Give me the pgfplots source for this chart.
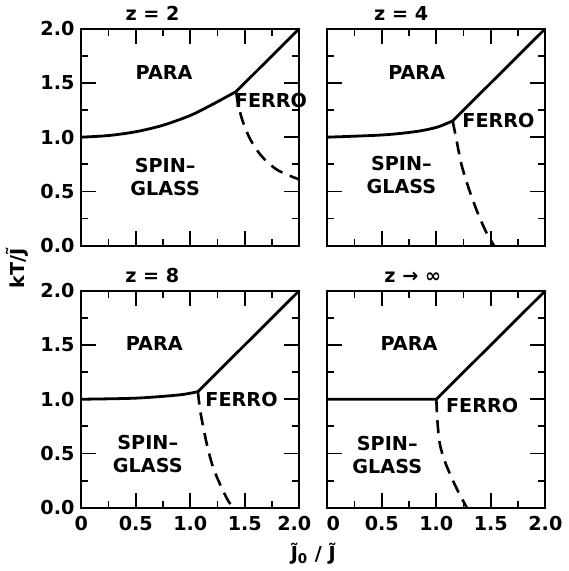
\documentclass[border=0pt]{standalone}
\usepackage{fontspec}
\setmainfont{DejaVu Sans}
\usepackage{pgfplots}
\pgfplotsset{compat=1.18}
\usepgfplotslibrary{groupplots}
\usetikzlibrary{calc}

\pgfplotsset{
  every axis title shift=0pt,
  phase/.style={
    width=109pt, height=108.5pt, scale only axis,
    xmin=0, xmax=2, ymin=0, ymax=2,
    xtick={0,0.5,1,1.5,2}, ytick={0,0.5,1,1.5,2},
    minor tick num=1,
    major tick length=7.5pt, minor tick length=3.5pt,
    tick style={line width=0.9pt, black},
    axis line style={line width=0.9pt},
    /pgf/number format/assume math mode=true,
    xticklabel style={yshift=-1pt},
    clip=false,
  },
  solid curve/.style={line width=1.4pt, black, no marks},
  dash curve/.style={line width=1.3pt, black, no marks, dash pattern=on 6.5pt off 4pt},
}

\begin{document}
\fontsize{9.6}{11.4}\selectfont\bfseries
\begin{tikzpicture}
\begin{groupplot}[
  group style={group size=2 by 2, horizontal sep=14pt, vertical sep=22.5pt},
  phase,
]
% z = 2
\nextgroupplot[xticklabels={}, yticklabels={0.0,0.5,1.0,1.5,2.0},
  title={z = 2}, title style={at={(0.327,1)}, anchor=base, yshift=4pt}]
\addplot[solid curve, smooth] coordinates {(0,1.0) (0.25,1.015) (0.5,1.05) (0.75,1.11) (1.0,1.2) (1.2,1.3) (1.42,1.42)};
\addplot[solid curve] coordinates {(1.42,1.42) (2,2)};
\addplot[dash curve, smooth] coordinates {(1.42,1.42) (1.44,1.30) (1.48,1.15) (1.55,0.98) (1.65,0.83) (1.78,0.71) (1.9,0.65) (2.0,0.61)};
\node at (axis cs:0.76,1.6) {PARA};
\node[align=center] at (axis cs:0.77,0.635) {SPIN--\\GLASS};
\node at (axis cs:1.74,1.34) {FERRO};

% z = 4
\nextgroupplot[xticklabels={}, yticklabels={},
  title={z = 4}, title style={at={(0.339,1)}, anchor=base, yshift=4pt}]
\addplot[solid curve, smooth] coordinates {(0,1.0) (0.5,1.02) (0.8,1.05) (1.0,1.09) (1.15,1.15)};
\addplot[solid curve] coordinates {(1.15,1.15) (2,2)};
\addplot[dash curve, smooth] coordinates {(1.15,1.15) (1.18,1.0) (1.23,0.75) (1.3,0.52) (1.38,0.3) (1.46,0.12) (1.53,0.0)};
\node at (axis cs:0.82,1.6) {PARA};
\node[align=center] at (axis cs:0.68,0.65) {SPIN--\\GLASS};
\node at (axis cs:1.57,1.15) {FERRO};

% z = 8
\nextgroupplot[xticklabels={0,0.5,1.0,1.5,{2.0\hspace*{5pt}}}, yticklabels={0.0,0.5,1.0,1.5,2.0},
  title={z = 8}, title style={at={(0.326,1)}, anchor=base, yshift=4pt}]
\addplot[solid curve, smooth] coordinates {(0,1.0) (0.5,1.01) (0.9,1.04) (1.07,1.07)};
\addplot[solid curve] coordinates {(1.07,1.07) (2,2)};
\addplot[dash curve, smooth] coordinates {(1.07,1.07) (1.09,0.9) (1.12,0.74) (1.16,0.55) (1.21,0.37) (1.28,0.2) (1.35,0.06) (1.40,0.0)};
\node at (axis cs:0.67,1.51) {PARA};
\node[align=center] at (axis cs:0.61,0.495) {SPIN--\\GLASS};
\node at (axis cs:1.47,1.0) {FERRO};

% z -> infinity
\nextgroupplot[xticklabels={{\hspace*{6pt}0},0.5,1.0,1.5,2.0}, yticklabels={},
  title={z → ∞}, title style={at={(0.392,1)}, anchor=base, yshift=4pt}]
\addplot[solid curve] coordinates {(0,1.0) (1.0,1.0) (2,2)};
\addplot[dash curve, smooth] coordinates {(1.0,1.0) (1.01,0.8) (1.03,0.6) (1.07,0.45) (1.13,0.3) (1.2,0.15) (1.28,0.0)};
\node at (axis cs:0.75,1.51) {PARA};
\node[align=center] at (axis cs:0.55,0.485) {SPIN--\\GLASS};
\node at (axis cs:1.42,0.94) {FERRO};
\end{groupplot}
\node[rotate=90] at ($(group c1r1.south west)!0.5!(group c1r2.north west)+(-32pt,0)$) {kT/\~{J}};
\node at ($(group c1r2.south east)!0.5!(group c2r2.south west)+(0,-23pt)$) {\~{J}\textsubscript{0} / \~{J}};
\end{tikzpicture}
\end{document}
